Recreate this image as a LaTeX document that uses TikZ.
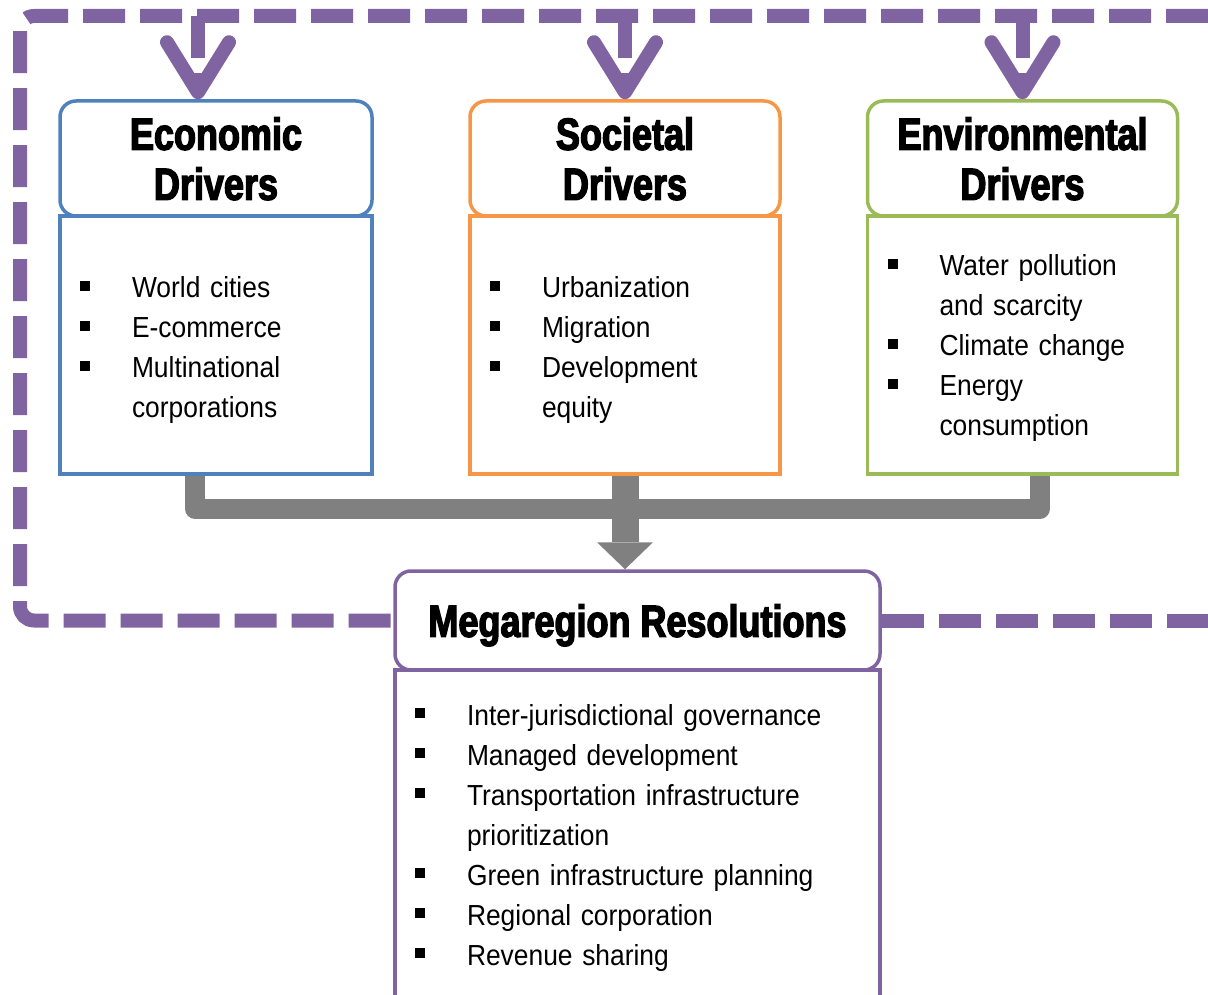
\documentclass[tikz,border=0pt]{standalone}
\usepackage{fontspec}
\setmainfont{Liberation Sans}[FakeStretch=0.91]
\newfontfamily\headfont{Liberation Sans}[FakeStretch=0.8,BoldFeatures={FakeBold=3}]
\usetikzlibrary{arrows.meta}
\definecolor{econblue}{HTML}{4F81BD}
\definecolor{socorange}{HTML}{F79646}
\definecolor{envgreen}{HTML}{9BBB59}
\definecolor{megapurple}{HTML}{8064A2}
\definecolor{flowgray}{HTML}{808080}
\newcommand{\bul}{\rule[7pt]{10pt}{10pt}}

\begin{document}
\begin{tikzpicture}[x=1pt,y=-1pt,
	head/.style={draw,rounded corners=16pt,line width=3.5pt,align=center,inner sep=0pt,text depth=0pt,
		font=\headfont\bfseries\fontsize{45}{50}\selectfont},
	list/.style={draw,line width=3.5pt,inner sep=0pt,align=left,font=\fontsize{29}{40}\selectfont},
	frame/.style={draw=megapurple,line width=14pt,dash pattern=on 42pt off 15pt,rounded corners=14pt},
	feedback/.style={draw=megapurple,line width=14pt,dash pattern=on 42pt off 15pt,
		-{Straight Barb[length=50pt,width=62pt,round]}},
	flow/.style={draw=flowgray,line width=20pt,line join=round}]
	\useasboundingbox (0,0) rectangle (1208,995);

	% driver boxes
	\node[head,draw=econblue,minimum width=312pt,minimum height=115pt] at (216,158.5) (econ) {Economic\\Drivers};
	\node[head,draw=socorange,minimum width=310pt,minimum height=115pt] at (625,158.5) (soc) {Societal\\Drivers};
	\node[head,draw=envgreen,minimum width=310pt,minimum height=115pt] at (1022.5,158.5) (env) {Environmental\\Drivers};

	\node[list,draw=econblue,text width=312pt,text height=82pt,text depth=176pt] at (216,345) (econlist) {\noindent
		\begin{tabular}[t]{@{\hspace{20pt}}l@{\hspace{42pt}}l@{}}
			\bul & World cities\\
			\bul & E-commerce\\
			\bul & Multinational\\
			     & corporations
		\end{tabular}};
	\node[list,draw=socorange,text width=310pt,text height=82pt,text depth=176pt] at (625,345) (soclist) {\noindent
		\begin{tabular}[t]{@{\hspace{20pt}}l@{\hspace{42pt}}l@{}}
			\bul & Urbanization\\
			\bul & Migration\\
			\bul & Development\\
			     & equity
		\end{tabular}};
	\node[list,draw=envgreen,text width=310pt,text height=60pt,text depth=198pt] at (1022.5,345) (envlist) {\noindent
		\begin{tabular}[t]{@{\hspace{20pt}}l@{\hspace{42pt}}l@{}}
			\bul & Water pollution\\
			     & and scarcity\\
			\bul & Climate change\\
			\bul & Energy\\
			     & consumption
		\end{tabular}};

	% resolutions box
	\node[head,draw=megapurple,minimum width=485pt,minimum height=99pt] at (637.5,620.5) (mega) {Megaregion Resolutions};
	\node[list,draw=megapurple,text width=485pt,text height=55pt,text depth=281pt] at (637.5,838) (megalist) {\noindent
		\begin{tabular}[t]{@{\hspace{20pt}}l@{\hspace{42pt}}l@{}}
			\bul & Inter-jurisdictional governance\\
			\bul & Managed development\\
			\bul & Transportation infrastructure\\
			     & prioritization\\
			\bul & Green infrastructure planning\\
			\bul & Regional corporation\\
			\bul & Revenue sharing
		\end{tabular}};

	% feedback loop
	\coordinate (frameTR) at (1208,16);
	\coordinate (econin) at ([xshift=-18pt]econ.north);
	\path[frame] (frameTR) -- (20,16) |- (mega.west);
	\path[frame] (mega.east) -- (mega.east -| frameTR);
	\path[feedback] (econin |- frameTR) -- (econin);
	\path[feedback] (soc.north |- frameTR) -- (soc.north);
	\path[feedback] (env.north |- frameTR) -- (env.north);

	% drivers feed the resolutions
	\path[flow] ([xshift=-21pt]econlist.south) -- ++(0,33) -| ([xshift=17.5pt]envlist.south);
	\path[flow,line width=27pt,-{Triangle[width=56pt,length=27pt,line width=0pt]}] (soclist.south) -- (soclist.south |- mega.north);
\end{tikzpicture}
\end{document}
